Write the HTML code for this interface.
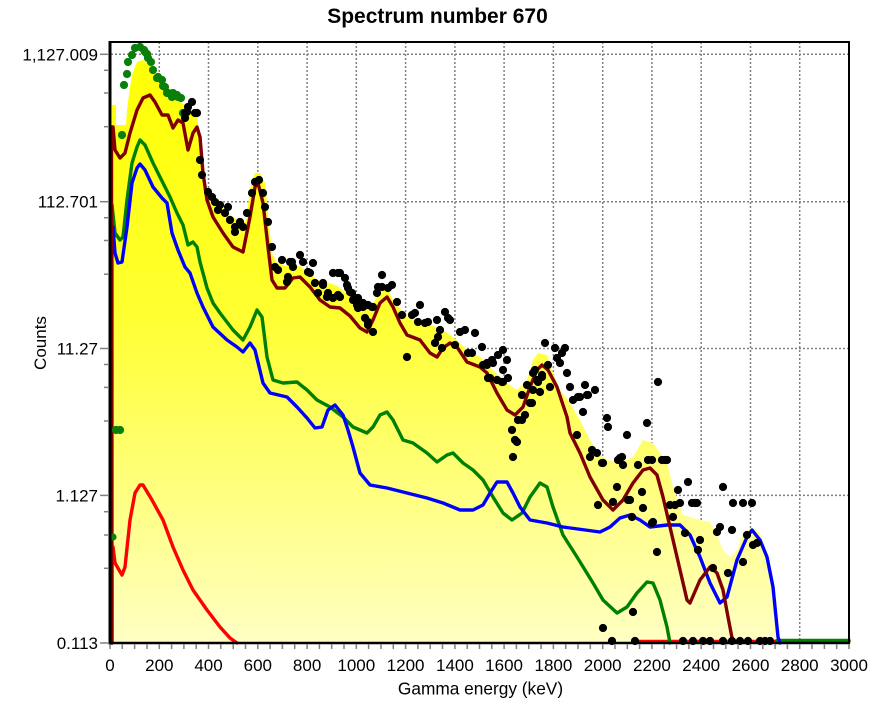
<!DOCTYPE html>
<html><head><meta charset="utf-8"><style>
html,body{margin:0;padding:0;background:#fff;}
svg{display:block;font-family:"Liberation Sans",Arial,sans-serif;}
</style></head><body>
<svg width="889" height="701" viewBox="0 0 889 701" xmlns="http://www.w3.org/2000/svg">
<defs>
<linearGradient id="yg" gradientUnits="userSpaceOnUse" x1="0" y1="42" x2="0" y2="643">
<stop offset="0" stop-color="#ffff00"/>
<stop offset="0.45" stop-color="#ffff30"/>
<stop offset="0.75" stop-color="#ffff80"/>
<stop offset="1" stop-color="#ffffc4"/>
</linearGradient>
</defs>
<rect width="889" height="701" fill="#fff"/>
<text x="437.5" y="23" font-size="21" font-weight="bold" text-anchor="middle" fill="#000">Spectrum number 670</text>

<g stroke="#808080" stroke-width="1.5" stroke-dasharray="2,2" fill="none">
<line x1="111" y1="54.3" x2="849" y2="54.3"/>
<line x1="111" y1="201.7" x2="849" y2="201.7"/>
<line x1="111" y1="348.5" x2="849" y2="348.5"/>
<line x1="111" y1="495.4" x2="849" y2="495.4"/>
<line x1="159.3" y1="42" x2="159.3" y2="643"/>
<line x1="208.5" y1="42" x2="208.5" y2="643"/>
<line x1="257.8" y1="42" x2="257.8" y2="643"/>
<line x1="307.1" y1="42" x2="307.1" y2="643"/>
<line x1="356.3" y1="42" x2="356.3" y2="643"/>
<line x1="405.6" y1="42" x2="405.6" y2="643"/>
<line x1="454.9" y1="42" x2="454.9" y2="643"/>
<line x1="504.1" y1="42" x2="504.1" y2="643"/>
<line x1="553.4" y1="42" x2="553.4" y2="643"/>
<line x1="602.7" y1="42" x2="602.7" y2="643"/>
<line x1="651.9" y1="42" x2="651.9" y2="643"/>
<line x1="701.2" y1="42" x2="701.2" y2="643"/>
<line x1="750.5" y1="42" x2="750.5" y2="643"/>
<line x1="799.7" y1="42" x2="799.7" y2="643"/>
</g>

<polygon fill="url(#yg)" points="112,643 112,105 116,105 116,125 126,125 127,110 130,87 133,72 137,62 143,60 150,65 155,72 160,80 167,90 177,100 185,105 190,112 197,115 200,140 200,155 203,173 207,187 210,197 215,200 227,213 240,222 246,222 250,190 252,180 255,173 260,173 265,183 268,213 272,253 277,263 287,266 300,266 317,280 333,284 340,288 353,300 357,307 373,303 380,293 387,288 393,300 407,317 423,323 440,328 453,337 467,350 480,357 493,370 507,383 517,390 527,380 533,360 538,353 547,355 553,373 560,390 570,403 580,420 590,440 600,455 607,460 620,463 633,457 643,440 653,443 667,463 673,487 683,515 700,520 710,522 717,535 723,550 730,557 737,550 743,533 752,527 760,533 768,560 773,593 778,640 778,643"/>

<g fill="none" stroke-width="3.4" stroke-linejoin="round" stroke-linecap="round">
<polyline stroke="#ff0000" points="112,643 112,547 113,547 115,563 122,575 125,567 130,520 135,493 140,485 143,485 152,500 163,520 173,547 183,570 193,590 207,610 220,627 230,638 237,643"/>
<line stroke="#ff0000" x1="633" y1="641.5" x2="849" y2="641.5"/>
<polyline stroke="#008000" points="112,643 112,205 115,233 120,240 123,237 127,200 132,163 137,147 140,140 145,145 153,163 163,183 170,197 177,213 183,225 188,245 193,242 197,247 200,262 207,288 213,303 220,313 233,330 243,340 250,327 257,310 262,317 267,357 273,380 283,383 297,382 307,390 317,400 330,407 343,417 353,427 367,433 373,427 380,415 387,412 393,420 403,440 413,443 427,453 437,462 447,455 453,453 463,463 473,470 483,480 493,497 503,513 512,520 522,513 530,497 540,483 547,487 553,507 563,535 577,557 593,583 603,600 617,613 627,607 637,593 647,582 653,583 660,600 667,627 670,643"/>
<line stroke="#008000" x1="777" y1="640.5" x2="849" y2="640.5"/>
<polyline stroke="#0000ff" points="111,643 111,230 113,227 115,253 118,263 122,262 127,227 132,183 137,168 140,164 145,170 153,187 162,198 167,203 172,233 178,250 185,267 190,273 197,293 203,307 213,327 227,340 237,347 243,352 250,343 255,350 263,383 270,393 287,397 297,407 307,418 315,428 322,427 328,410 335,405 343,415 348,430 353,447 360,473 370,485 387,488 407,493 427,498 443,503 460,510 473,510 483,505 490,493 497,482 507,482 513,493 520,507 530,520 547,523 563,527 600,532 610,527 620,518 630,515 640,520 650,527 667,525 680,525 690,535 700,557 710,583 720,603 727,597 737,560 747,537 752,530 760,540 767,557 773,587 778,637 780,643"/>
<polyline stroke="#800000" points="111.5,643 111.5,127 113,127 115,150 120,158 125,153 130,133 137,110 143,98 150,95 155,102 162,115 168,115 173,128 178,120 183,123 188,150 193,133 197,127 200,137 203,173 207,200 213,217 223,233 233,247 243,252 250,217 255,187 258,183 263,203 268,247 272,280 277,288 285,288 293,278 300,277 310,287 320,300 330,307 340,308 350,316 360,328 367,332 373,320 380,303 387,297 393,307 400,323 407,335 420,340 430,353 437,357 443,348 450,343 457,347 467,362 480,367 487,373 497,393 507,410 515,415 523,407 530,387 537,370 542,365 548,370 557,387 567,417 570,433 580,453 590,477 603,500 613,510 623,500 633,483 643,470 650,468 657,475 663,497 670,527 677,557 687,600 690,603 700,580 710,567 717,573 723,590 728,617 733,643"/>
</g>

<g fill="#0a800a">
<circle cx="122" cy="135" r="4.1"/><circle cx="124" cy="85" r="4.1"/><circle cx="127" cy="74" r="4.1"/><circle cx="128" cy="62" r="4.1"/><circle cx="132" cy="55" r="4.1"/><circle cx="135" cy="48" r="4.1"/><circle cx="140" cy="47" r="4.1"/><circle cx="144" cy="50" r="4.1"/><circle cx="147" cy="54" r="4.1"/><circle cx="151" cy="62" r="4.1"/><circle cx="153" cy="70" r="4.1"/><circle cx="157" cy="78" r="4.1"/><circle cx="162" cy="80" r="4.1"/><circle cx="163" cy="86" r="4.1"/><circle cx="167" cy="93" r="4.1"/><circle cx="172" cy="97" r="4.1"/><circle cx="177" cy="95" r="4.1"/><circle cx="181" cy="98" r="4.1"/><circle cx="183" cy="113" r="4.1"/><circle cx="145" cy="52" r="4.1"/><circle cx="148" cy="58" r="4.1"/><circle cx="158" cy="77" r="4.1"/><circle cx="165" cy="87" r="4.1"/><circle cx="168" cy="93" r="4.1"/><circle cx="173" cy="93" r="4.1"/><circle cx="178" cy="97" r="4.1"/>
<circle cx="116" cy="430" r="4.1"/><circle cx="120" cy="430" r="4.1"/><circle cx="113" cy="537" r="3.6"/>
</g>

<g fill="#000">
<circle cx="185" cy="113" r="4.1"/><circle cx="188" cy="107" r="4.1"/><circle cx="192" cy="102" r="4.1"/><circle cx="195" cy="113" r="4.1"/><circle cx="187" cy="112" r="4.1"/><circle cx="185" cy="118" r="4.1"/><circle cx="197" cy="113" r="4.1"/>
<circle cx="200" cy="160" r="4.1"/><circle cx="202" cy="175" r="4.1"/><circle cx="208" cy="192" r="4.1"/><circle cx="212" cy="197" r="4.1"/><circle cx="215" cy="202" r="4.1"/><circle cx="220" cy="205" r="4.1"/><circle cx="225" cy="213" r="4.1"/><circle cx="228" cy="207" r="4.1"/><circle cx="230" cy="220" r="4.1"/><circle cx="235" cy="227" r="4.1"/><circle cx="240" cy="222" r="4.1"/><circle cx="243" cy="227" r="4.1"/><circle cx="247" cy="213" r="4.1"/><circle cx="252" cy="193" r="4.1"/><circle cx="255" cy="182" r="4.1"/><circle cx="259" cy="180" r="4.1"/><circle cx="263" cy="193" r="4.1"/><circle cx="265" cy="207" r="4.1"/><circle cx="268" cy="222" r="4.1"/><circle cx="272" cy="247" r="4.1"/><circle cx="235" cy="232" r="4.1"/><circle cx="218" cy="210" r="4.1"/>
<circle cx="275" cy="267" r="4.1"/><circle cx="282" cy="260" r="4.1"/><circle cx="290" cy="262" r="4.1"/><circle cx="293" cy="267" r="4.1"/><circle cx="300" cy="255" r="4.1"/><circle cx="303" cy="262" r="4.1"/><circle cx="308" cy="272" r="4.1"/><circle cx="313" cy="263" r="4.1"/><circle cx="315" cy="283" r="4.1"/><circle cx="318" cy="293" r="4.1"/><circle cx="323" cy="285" r="4.1"/><circle cx="327" cy="297" r="4.1"/><circle cx="333" cy="273" r="4.1"/><circle cx="338" cy="273" r="4.1"/><circle cx="340" cy="297" r="4.1"/><circle cx="345" cy="278" r="4.1"/><circle cx="348" cy="288" r="4.1"/><circle cx="352" cy="293" r="4.1"/><circle cx="355" cy="298" r="4.1"/><circle cx="357" cy="305" r="4.1"/><circle cx="278" cy="270" r="4.1"/><circle cx="288" cy="277" r="4.1"/><circle cx="287" cy="282" r="4.1"/><circle cx="292" cy="262" r="4.1"/><circle cx="310" cy="273" r="4.1"/><circle cx="323" cy="283" r="4.1"/><circle cx="328" cy="293" r="4.1"/><circle cx="333" cy="298" r="4.1"/><circle cx="338" cy="295" r="4.1"/><circle cx="347" cy="285" r="4.1"/><circle cx="350" cy="292" r="4.1"/><circle cx="353" cy="300" r="4.1"/><circle cx="363" cy="307" r="4.1"/><circle cx="372" cy="307" r="4.1"/><circle cx="365" cy="318" r="4.1"/><circle cx="368" cy="325" r="4.1"/><circle cx="373" cy="332" r="4.1"/><circle cx="377" cy="293" r="4.1"/><circle cx="382" cy="275" r="4.1"/><circle cx="382" cy="287" r="4.1"/><circle cx="392" cy="285" r="4.1"/><circle cx="340" cy="273" r="4.1"/>
<circle cx="358" cy="298" r="4.1"/><circle cx="358" cy="308" r="4.1"/><circle cx="363" cy="303" r="4.1"/><circle cx="368" cy="305" r="4.1"/><circle cx="373" cy="307" r="4.1"/><circle cx="368" cy="322" r="4.1"/><circle cx="378" cy="287" r="4.1"/><circle cx="388" cy="288" r="4.1"/><circle cx="397" cy="302" r="4.1"/><circle cx="402" cy="315" r="4.1"/><circle cx="407" cy="357" r="4.1"/><circle cx="412" cy="315" r="4.1"/><circle cx="415" cy="313" r="4.1"/><circle cx="420" cy="305" r="4.1"/><circle cx="418" cy="322" r="4.1"/><circle cx="425" cy="323" r="4.1"/><circle cx="428" cy="322" r="4.1"/><circle cx="437" cy="320" r="4.1"/><circle cx="440" cy="330" r="4.1"/><circle cx="445" cy="312" r="4.1"/><circle cx="450" cy="320" r="4.1"/><circle cx="438" cy="337" r="4.1"/><circle cx="435" cy="343" r="4.1"/><circle cx="442" cy="348" r="4.1"/><circle cx="448" cy="318" r="4.1"/><circle cx="455" cy="345" r="4.1"/><circle cx="460" cy="332" r="4.1"/><circle cx="465" cy="330" r="4.1"/><circle cx="468" cy="353" r="4.1"/><circle cx="472" cy="353" r="4.1"/><circle cx="475" cy="333" r="4.1"/><circle cx="482" cy="347" r="4.1"/><circle cx="483" cy="365" r="4.1"/><circle cx="487" cy="365" r="4.1"/><circle cx="492" cy="360" r="4.1"/><circle cx="493" cy="363" r="4.1"/><circle cx="498" cy="355" r="4.1"/><circle cx="488" cy="378" r="4.1"/><circle cx="497" cy="380" r="4.1"/><circle cx="503" cy="370" r="4.1"/><circle cx="503" cy="382" r="4.1"/><circle cx="507" cy="360" r="4.1"/><circle cx="508" cy="378" r="4.1"/><circle cx="522" cy="395" r="4.1"/><circle cx="527" cy="385" r="4.1"/><circle cx="532" cy="403" r="4.1"/><circle cx="518" cy="420" r="4.1"/><circle cx="522" cy="420" r="4.1"/><circle cx="512" cy="430" r="4.1"/><circle cx="517" cy="442" r="4.1"/><circle cx="513" cy="457" r="4.1"/><circle cx="525" cy="415" r="4.1"/><circle cx="533" cy="373" r="4.1"/><circle cx="537" cy="380" r="4.1"/><circle cx="542" cy="377" r="4.1"/><circle cx="540" cy="392" r="4.1"/><circle cx="545" cy="343" r="4.1"/><circle cx="548" cy="365" r="4.1"/><circle cx="550" cy="387" r="4.1"/><circle cx="555" cy="348" r="4.1"/><circle cx="557" cy="358" r="4.1"/><circle cx="560" cy="363" r="4.1"/><circle cx="565" cy="348" r="4.1"/><circle cx="567" cy="373" r="4.1"/><circle cx="570" cy="387" r="4.1"/><circle cx="573" cy="400" r="4.1"/><circle cx="578" cy="397" r="4.1"/><circle cx="583" cy="412" r="4.1"/><circle cx="585" cy="385" r="4.1"/><circle cx="588" cy="395" r="4.1"/><circle cx="595" cy="390" r="4.1"/><circle cx="577" cy="435" r="4.1"/><circle cx="592" cy="450" r="4.1"/><circle cx="597" cy="453" r="4.1"/>
<circle cx="503" cy="350" r="4.1"/><circle cx="487" cy="363" r="4.1"/><circle cx="490" cy="378" r="4.1"/><circle cx="502" cy="382" r="4.1"/><circle cx="530" cy="403" r="4.1"/><circle cx="533" cy="390" r="4.1"/><circle cx="538" cy="382" r="4.1"/><circle cx="542" cy="375" r="4.1"/><circle cx="535" cy="370" r="4.1"/><circle cx="562" cy="353" r="4.1"/><circle cx="580" cy="397" r="4.1"/><circle cx="587" cy="395" r="4.1"/><circle cx="607" cy="418" r="4.1"/><circle cx="608" cy="427" r="4.1"/><circle cx="590" cy="457" r="4.1"/><circle cx="603" cy="463" r="4.1"/><circle cx="627" cy="435" r="4.1"/><circle cx="647" cy="423" r="4.1"/><circle cx="658" cy="382" r="4.1"/><circle cx="620" cy="458" r="4.1"/><circle cx="623" cy="465" r="4.1"/><circle cx="638" cy="465" r="4.1"/><circle cx="648" cy="460" r="4.1"/><circle cx="652" cy="460" r="4.1"/><circle cx="662" cy="460" r="4.1"/><circle cx="667" cy="460" r="4.1"/><circle cx="617" cy="487" r="4.1"/><circle cx="642" cy="492" r="4.1"/><circle cx="628" cy="500" r="4.1"/><circle cx="613" cy="502" r="4.1"/><circle cx="598" cy="505" r="4.1"/><circle cx="643" cy="508" r="4.1"/><circle cx="632" cy="517" r="4.1"/><circle cx="652" cy="523" r="4.1"/><circle cx="670" cy="505" r="4.1"/><circle cx="673" cy="517" r="4.1"/><circle cx="680" cy="503" r="4.1"/><circle cx="688" cy="482" r="4.1"/><circle cx="678" cy="490" r="4.1"/><circle cx="692" cy="503" r="4.1"/><circle cx="697" cy="503" r="4.1"/><circle cx="515" cy="440" r="4.1"/>
<circle cx="602" cy="463" r="4.1"/><circle cx="618" cy="460" r="4.1"/><circle cx="622" cy="457" r="4.1"/><circle cx="665" cy="460" r="4.1"/><circle cx="675" cy="505" r="4.1"/><circle cx="695" cy="503" r="4.1"/><circle cx="723" cy="487" r="4.1"/><circle cx="733" cy="503" r="4.1"/><circle cx="743" cy="503" r="4.1"/><circle cx="752" cy="503" r="4.1"/><circle cx="685" cy="533" r="4.1"/><circle cx="717" cy="532" r="4.1"/><circle cx="720" cy="527" r="4.1"/><circle cx="732" cy="530" r="4.1"/><circle cx="747" cy="535" r="4.1"/><circle cx="753" cy="545" r="4.1"/><circle cx="757" cy="543" r="4.1"/><circle cx="743" cy="562" r="4.1"/><circle cx="700" cy="540" r="4.1"/><circle cx="698" cy="550" r="4.1"/><circle cx="713" cy="568" r="4.1"/><circle cx="728" cy="573" r="4.1"/><circle cx="630" cy="500" r="4.1"/><circle cx="653" cy="522" r="4.1"/><circle cx="657" cy="552" r="4.1"/><circle cx="633" cy="612" r="4.1"/><circle cx="603" cy="628" r="4.1"/>
<circle cx="612" cy="641" r="4.1"/><circle cx="635" cy="641" r="4.1"/><circle cx="683" cy="641" r="4.1"/><circle cx="693" cy="641" r="4.1"/><circle cx="703" cy="641" r="4.1"/><circle cx="710" cy="641" r="4.1"/><circle cx="723" cy="641" r="4.1"/><circle cx="732" cy="641" r="4.1"/><circle cx="740" cy="641" r="4.1"/><circle cx="748" cy="641" r="4.1"/><circle cx="760" cy="641" r="4.1"/><circle cx="765" cy="641" r="4.1"/><circle cx="770" cy="641" r="4.1"/>
</g>

<g stroke="#000" fill="none">
<line x1="110" y1="41" x2="110" y2="644.5" stroke-width="3"/>
<line x1="109" y1="42" x2="850" y2="42" stroke-width="2"/>
<line x1="849" y1="41" x2="849" y2="644" stroke-width="2"/>
<line x1="109" y1="643" x2="850" y2="643" stroke-width="2.5"/>
</g>

<g stroke="#808080" stroke-width="1.5">
<line x1="100" y1="54.3" x2="109" y2="54.3"/>
<line x1="100" y1="201.7" x2="109" y2="201.7"/>
<line x1="100" y1="348.5" x2="109" y2="348.5"/>
<line x1="100" y1="495.4" x2="109" y2="495.4"/>
<line x1="100" y1="643" x2="109" y2="643"/>
<line x1="104" y1="70.3" x2="109" y2="70.3"/><line x1="104" y1="93" x2="109" y2="93"/><line x1="104" y1="126.7" x2="109" y2="126.7"/>
<line x1="104" y1="217.7" x2="109" y2="217.7"/><line x1="104" y1="240.5" x2="109" y2="240.5"/><line x1="104" y1="274.2" x2="109" y2="274.2"/>
<line x1="104" y1="364.5" x2="109" y2="364.5"/><line x1="104" y1="387.4" x2="109" y2="387.4"/><line x1="104" y1="421" x2="109" y2="421"/>
<line x1="104" y1="511.7" x2="109" y2="511.7"/><line x1="104" y1="535" x2="109" y2="535"/><line x1="104" y1="568.3" x2="109" y2="568.3"/>
</g>
<g font-size="17" text-anchor="end" fill="#000">
<text x="98" y="60.3">1,127.009</text>
<text x="98" y="207.7">112.701</text>
<text x="98" y="354.5">11.27</text>
<text x="98" y="501.4">1.127</text>
<text x="98" y="649">0.113</text>
</g>

<g stroke="#808080" stroke-width="1.5">
<line x1="110" y1="644" x2="110" y2="649"/><line x1="122.3" y1="644" x2="122.3" y2="649"/><line x1="134.6" y1="644" x2="134.6" y2="649"/><line x1="147" y1="644" x2="147" y2="649"/>
<line x1="159.3" y1="644" x2="159.3" y2="649"/><line x1="171.6" y1="644" x2="171.6" y2="649"/><line x1="183.9" y1="644" x2="183.9" y2="649"/><line x1="196.2" y1="644" x2="196.2" y2="649"/>
<line x1="208.5" y1="644" x2="208.5" y2="649"/><line x1="220.8" y1="644" x2="220.8" y2="649"/><line x1="233.2" y1="644" x2="233.2" y2="649"/><line x1="245.5" y1="644" x2="245.5" y2="649"/>
<line x1="257.8" y1="644" x2="257.8" y2="649"/><line x1="270.1" y1="644" x2="270.1" y2="649"/><line x1="282.4" y1="644" x2="282.4" y2="649"/><line x1="294.7" y1="644" x2="294.7" y2="649"/>
<line x1="307.1" y1="644" x2="307.1" y2="649"/><line x1="319.4" y1="644" x2="319.4" y2="649"/><line x1="331.7" y1="644" x2="331.7" y2="649"/><line x1="344" y1="644" x2="344" y2="649"/>
<line x1="356.3" y1="644" x2="356.3" y2="649"/><line x1="368.6" y1="644" x2="368.6" y2="649"/><line x1="381" y1="644" x2="381" y2="649"/><line x1="393.3" y1="644" x2="393.3" y2="649"/>
<line x1="405.6" y1="644" x2="405.6" y2="649"/><line x1="417.9" y1="644" x2="417.9" y2="649"/><line x1="430.2" y1="644" x2="430.2" y2="649"/><line x1="442.5" y1="644" x2="442.5" y2="649"/>
<line x1="454.9" y1="644" x2="454.9" y2="649"/><line x1="467.2" y1="644" x2="467.2" y2="649"/><line x1="479.5" y1="644" x2="479.5" y2="649"/><line x1="491.8" y1="644" x2="491.8" y2="649"/>
<line x1="504.1" y1="644" x2="504.1" y2="649"/><line x1="516.4" y1="644" x2="516.4" y2="649"/><line x1="528.8" y1="644" x2="528.8" y2="649"/><line x1="541.1" y1="644" x2="541.1" y2="649"/>
<line x1="553.4" y1="644" x2="553.4" y2="649"/><line x1="565.7" y1="644" x2="565.7" y2="649"/><line x1="578" y1="644" x2="578" y2="649"/><line x1="590.3" y1="644" x2="590.3" y2="649"/>
<line x1="602.7" y1="644" x2="602.7" y2="649"/><line x1="615" y1="644" x2="615" y2="649"/><line x1="627.3" y1="644" x2="627.3" y2="649"/><line x1="639.6" y1="644" x2="639.6" y2="649"/>
<line x1="651.9" y1="644" x2="651.9" y2="649"/><line x1="664.2" y1="644" x2="664.2" y2="649"/><line x1="676.6" y1="644" x2="676.6" y2="649"/><line x1="688.9" y1="644" x2="688.9" y2="649"/>
<line x1="701.2" y1="644" x2="701.2" y2="649"/><line x1="713.5" y1="644" x2="713.5" y2="649"/><line x1="725.8" y1="644" x2="725.8" y2="649"/><line x1="738.1" y1="644" x2="738.1" y2="649"/>
<line x1="750.5" y1="644" x2="750.5" y2="649"/><line x1="762.8" y1="644" x2="762.8" y2="649"/><line x1="775.1" y1="644" x2="775.1" y2="649"/><line x1="787.4" y1="644" x2="787.4" y2="649"/>
<line x1="799.7" y1="644" x2="799.7" y2="649"/><line x1="812" y1="644" x2="812" y2="649"/><line x1="824.4" y1="644" x2="824.4" y2="649"/><line x1="836.7" y1="644" x2="836.7" y2="649"/>
<line x1="849" y1="644" x2="849" y2="649"/>
</g>
<g font-size="17" text-anchor="middle" fill="#000">
<text x="110" y="671">0</text><text x="159.3" y="671">200</text><text x="208.5" y="671">400</text><text x="257.8" y="671">600</text><text x="307.1" y="671">800</text><text x="356.3" y="671">1000</text><text x="405.6" y="671">1200</text><text x="454.9" y="671">1400</text><text x="504.1" y="671">1600</text><text x="553.4" y="671">1800</text><text x="602.7" y="671">2000</text><text x="651.9" y="671">2200</text><text x="701.2" y="671">2400</text><text x="750.5" y="671">2600</text><text x="799.7" y="671">2800</text><text x="849" y="671">3000</text>
</g>
<text x="480.5" y="694.5" font-size="17.3" text-anchor="middle" fill="#000">Gamma energy (keV)</text>
<text x="0" y="0" font-size="17" text-anchor="middle" fill="#000" transform="translate(46,343) rotate(-90)">Counts</text>
</svg>
</body></html>
